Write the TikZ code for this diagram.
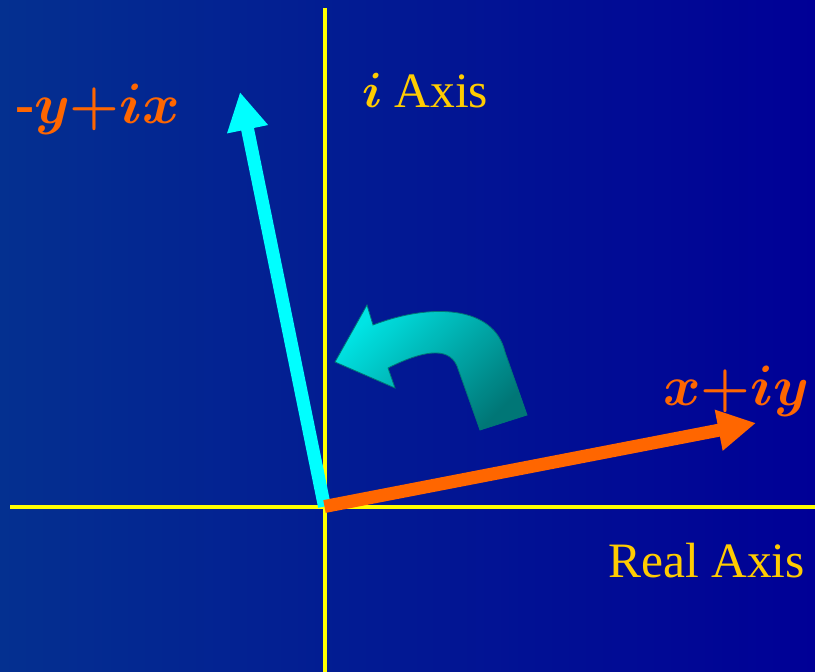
\RequirePackage{fix-cm}
\documentclass[tikz,border=0pt]{standalone}
\usepackage{fontspec}
\usepackage{amsmath}
\setmainfont{Liberation Serif}
\usetikzlibrary{arrows.meta}

\definecolor{bgleft}{RGB}{4,48,144}
\definecolor{bgright}{RGB}{0,0,150}
\definecolor{axisyellow}{RGB}{255,255,0}
\definecolor{labelgold}{RGB}{255,204,0}
\definecolor{vecorange}{RGB}{255,102,0}
\definecolor{veccyan}{RGB}{0,255,255}
\definecolor{turnlight}{RGB}{0,228,228}
\definecolor{turndark}{RGB}{0,118,118}

\tikzset{
  axisline/.style={axisyellow, line width=4pt},
  vecline/.style={line width=13pt, -{Triangle[length=38pt,width=39pt]}},
  axislabel/.style={labelgold, inner sep=0pt, anchor=base west,
    font=\fontsize{49.5}{52}\selectfont},
  veclabel/.style={vecorange, inner sep=0pt, anchor=base west,
    font=\fontsize{57}{60}\selectfont},
}

\begin{document}
\begin{tikzpicture}[x=1pt, y=-1pt]
  \useasboundingbox (0,0) rectangle (815,672);
  \shade[left color=bgleft, right color=bgright] (0,0) rectangle (815,672);

  % axes
  \coordinate (O) at (324.5,506.5);
  \coordinate (xstart) at (10,506.5);
  \coordinate (xend) at (815,506.5);
  \coordinate (ystart) at (324.5,8);
  \coordinate (yend) at (324.5,672);
  \draw[axisline] (xstart) -- (xend);
  \draw[axisline] (ystart) -- (yend);

  % turning arrow
  \shadedraw[top color=turnlight, bottom color=turndark, shading angle=45,
    draw=turndark, line width=0.8pt]
    (527,415) -- (480,430) -- (457,366)
    .. controls (448,345) and (420,352) .. (388,368)
    -- (395,388) -- (335,362) -- (367,305) -- (373,325)
    .. controls (430,303) and (494,305) .. (505,352) -- cycle;

  % vectors
  \coordinate (zvec) at (756,423);
  \coordinate (izvec) at (240,92);
  \draw[vecline, veccyan] (O) -- (izvec);
  \draw[vecline, vecorange] (O) -- (zvec);

  % labels
  \node[veclabel] (zlabel) at (663,405) {$\boldsymbol{x{+}iy}$};
  \node[veclabel] (izlabel) at (15,123) {$\boldsymbol{\text{\bfseries -}y{+}ix}$};
  \node[axislabel] (ilabel) at (362,107) {$\boldsymbol{i}$ Axis};
  \node[axislabel] (rlabel) at (608,577) {Real Axis};
\end{tikzpicture}
\end{document}
